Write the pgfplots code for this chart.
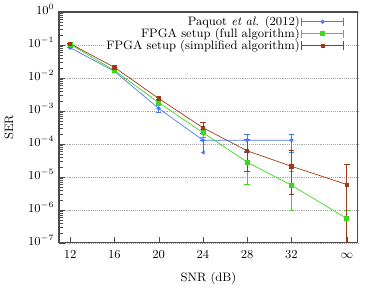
\documentclass[border=0pt]{standalone}
\usepackage{pgfplots}
\pgfplotsset{compat=1.18}
\definecolor{cblue}{RGB}{70,120,255}
\definecolor{cgreen}{RGB}{60,215,30}
\definecolor{cbrown}{RGB}{160,55,25}
\begin{document}
\begin{tikzpicture}
\begin{axis}[
  name=ax,
  scale only axis,
  width=220pt, height=170pt,
  ymode=log,
  xmin=11, xmax=38,
  ymin=1e-7, ymax=1,
  xtick={12,16,20,24,28,32,37},
  xticklabels={12,16,20,24,28,32,$\infty$},
  typeset ticklabels with strut,
  ytick={1,1e-1,1e-2,1e-3,1e-4,1e-5,1e-6,1e-7},
  minor ytick={2e-7,3e-7,4e-7,5e-7,6e-7,7e-7,8e-7,9e-7,
    2e-6,3e-6,4e-6,5e-6,6e-6,7e-6,8e-6,9e-6,
    2e-5,3e-5,4e-5,5e-5,6e-5,7e-5,8e-5,9e-5,
    2e-4,3e-4,4e-4,5e-4,6e-4,7e-4,8e-4,9e-4,
    2e-3,3e-3,4e-3,5e-3,6e-3,7e-3,8e-3,9e-3,
    2e-2,3e-2,4e-2,5e-2,6e-2,7e-2,8e-2,9e-2,
    2e-1,3e-1,4e-1,5e-1,6e-1,7e-1,8e-1,9e-1},
  tick align=inside,
  xtick pos=bottom, ytick pos=left,
  axis line style={draw=black!70, line width=0.8pt},
  major tick style={black!70},
  minor tick style={black!70},
  ymajorgrids,
  major grid style={densely dotted, gray!70, line width=0.4pt},
  xlabel={SNR (dB)}, ylabel={SER},
  ylabel shift=4pt,
  ticklabel style={font=\small},
  label style={font=\small},
  legend style={draw=none, fill=white, font=\small, at={(0.96,0.995)}, anchor=north east,
    legend cell align=right, legend plot pos=right, row sep=-1.5pt, inner sep=1pt,
    nodes={inner sep=1pt}},
  legend image code/.code={
    \draw[#1, |-|, mark=none] (0cm,0cm) -- (1.1cm,0cm);
    \draw[#1, only marks] plot coordinates {(0.55cm,0cm)};
  },
  error bars/error bar style={line width=0.5pt},
  error bars/error mark options={rotate=90, mark size=2pt, line width=0.5pt},
]
% Paquot et al.
\addplot[cblue, line width=0.5pt, mark=*, mark size=1.3pt,
  error bars/.cd, y dir=both, y explicit]
  coordinates {
  (12,0.083) +- (0,0)
  (16,0.016) +- (0,0)
  (20,1.2e-3) -= (0,0.3e-3)
  (24,1.3e-4) +- (0,0)
  (28,1.3e-4) += (0,0.7e-4) -= (0,0.73e-4)
  (32,1.3e-4) += (0,0.7e-4) -= (0,0.73e-4)
  };
\addlegendentry{Paquot \emph{et al.} (2012)}
% FPGA full
\addplot[cgreen, line width=0.5pt, mark=square*, mark size=1.5pt,
  error bars/.cd, y dir=both, y explicit]
  coordinates {
  (12,0.105) +- (0,0)
  (16,0.017) +- (0,0)
  (20,1.8e-3) +- (0,0.3e-3)
  (24,2.2e-4) += (0,0.6e-4) -= (0,0.6e-4)
  (28,2.8e-5) += (0,3.0e-5) -= (0,2.2e-5)
  (32,5.6e-6) += (0,9.4e-6) -= (0,4.6e-6)
  (37,5.5e-7) += (0,4.3e-7) -= (0,5.49e-7)
  };
\addlegendentry{FPGA setup (full algorithm)}
% FPGA simplified
\addplot[cbrown, line width=0.5pt, mark=square*, mark size=1.2pt,
  error bars/.cd, y dir=both, y explicit]
  coordinates {
  (12,0.11) +- (0,0)
  (16,0.021) +- (0,0)
  (20,2.4e-3) +- (0,0.2e-3)
  (24,3.1e-4) += (0,1.5e-4) -= (0,1.0e-4)
  (28,6.2e-5) += (0,7.8e-5) -= (0,4.7e-5)
  (32,2.1e-5) += (0,4.3e-5) -= (0,1.8e-5)
  (37,5.9e-6) += (0,1.9e-5) -= (0,5.89e-6)
  };
\addlegendentry{FPGA setup (simplified algorithm)}
% arrow at 24 for Paquot
\addplot[cblue, line width=0.5pt, mark=none, forget plot,
  error bars/.cd, y dir=minus, y explicit,
  error mark=triangle*, error mark options={rotate=180, mark size=1.5pt}]
  coordinates {(24,1.3e-4) -= (0,0.75e-4)};
\end{axis}
\path ([xshift=6pt]ax.south east);
\end{tikzpicture}
\end{document}
